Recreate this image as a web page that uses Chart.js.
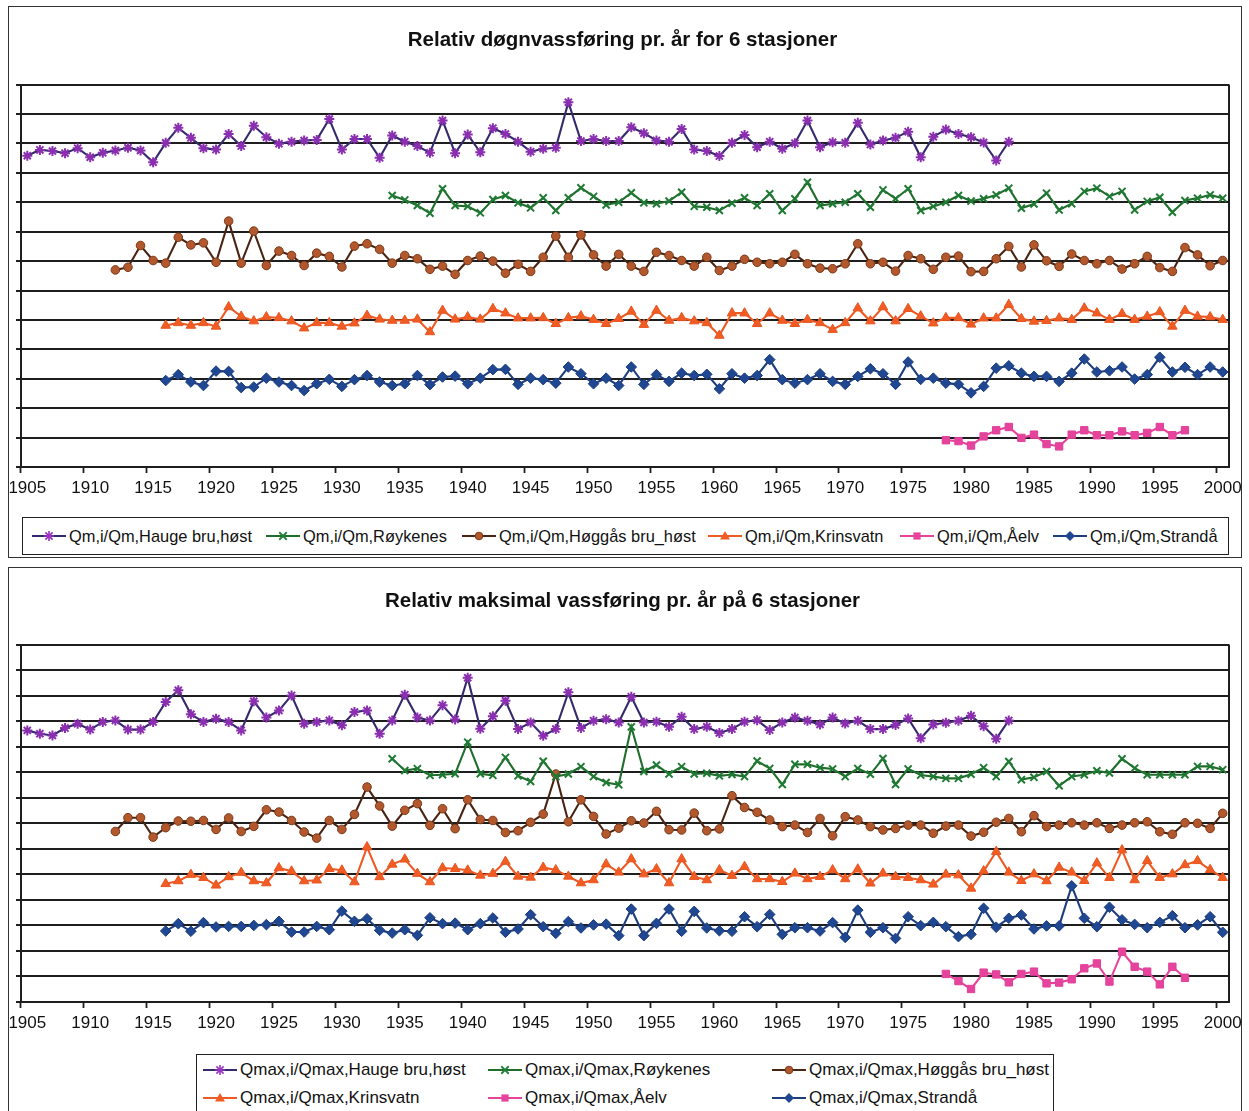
<!DOCTYPE html>
<html><head><meta charset="utf-8">
<script src="https://cdn.jsdelivr.net/npm/chart.js@4/dist/chart.umd.min.js"></script>
<style>
body{margin:0;background:#fff;width:1249px;height:1111px;position:relative;overflow:hidden;font-family:"Liberation Sans",Arial,sans-serif;}
.frame{position:absolute;border:1.5px solid #333;box-sizing:border-box;}
.wrap{position:absolute;left:0;width:1249px;}
.legend{position:absolute;border:1.5px solid #222;box-sizing:border-box;background:#fff}
.item{position:absolute;display:flex;align-items:center;white-space:nowrap;color:#111;}
.item svg{margin-right:3px}
</style></head>
<body>
<div class="frame" style="left:8px;top:6px;width:1234px;height:552px"></div>
<div class="frame" style="left:8px;top:567px;width:1234px;height:580px"></div>
<div class="wrap" style="top:0;height:507px"><canvas id="c1"></canvas></div>
<div class="wrap" style="top:560px;height:482px"><canvas id="c2"></canvas></div>
<div class="legend" id="leg1" style="left:22px;top:517px;width:1207px;height:38px"></div>
<div class="legend" id="leg2" style="left:196px;top:1054px;width:858px;height:70px"></div>
<script>
// ---------- categories ----------
const firstYear = 1905, lastYear = 2000;
const years = [];
for (let y = firstYear; y <= lastYear; y++) years.push(y);
const tickEvery = 5;

// ---------- titles / legend labels ----------
const titleDay = 'Relativ døgnvassføring pr. år for 6 stasjoner';
const titleMax = 'Relativ maksimal vassføring pr. år på 6 stasjoner';
const labelsDay = ['Qm,i/Qm,Hauge bru,høst','Qm,i/Qm,Røykenes','Qm,i/Qm,Høggås bru_høst','Qm,i/Qm,Krinsvatn','Qm,i/Qm,Åelv','Qm,i/Qm,Strandå'];
const labelsMax = ['Qmax,i/Qmax,Hauge bru,høst','Qmax,i/Qmax,Røykenes','Qmax,i/Qmax,Høggås bru_høst','Qmax,i/Qmax,Krinsvatn','Qmax,i/Qmax,Åelv','Qmax,i/Qmax,Strandå'];

// ---------- series start years ----------
const startHauge = 1905, startRoykenes = 1934, startHoggas = 1912, startKrinsvatn = 1916, startAelv = 1978, startStranda = 1916;

// ---------- top chart: daily (plotted, offset per station) ----------
const dayHauge = [10.58,10.78,10.74,10.67,10.84,10.53,10.68,10.76,10.85,10.76,10.36,11.02,11.53,11.19,10.84,10.79,11.32,10.91,11.6,11.21,10.99,11.06,11.10,11.12,11.83,10.79,11.15,11.15,10.51,11.27,11.06,10.91,10.68,11.78,10.67,11.30,10.70,11.52,11.32,11.06,10.72,10.82,10.85,12.40,11.08,11.15,11.08,11.08,11.55,11.35,11.10,11.06,11.49,10.79,10.74,10.57,11.02,11.29,10.87,11.06,10.82,11.01,11.78,10.87,11.04,11.02,11.70,10.96,11.10,11.19,11.40,10.53,11.23,11.47,11.32,11.21,11.03,10.42,11.06];
const dayRoykenes = [9.23,9.08,8.89,8.63,9.46,8.89,8.86,8.64,9.09,9.23,8.98,8.81,9.15,8.72,9.15,9.49,9.20,8.91,9.00,9.32,8.98,8.95,9.04,9.34,8.86,8.83,8.72,8.97,9.15,8.89,9.29,8.72,9.12,9.68,8.89,8.95,9.00,9.29,8.83,9.42,9.12,9.46,8.72,8.86,9.00,9.23,9.04,9.12,9.25,9.48,8.80,8.94,9.31,8.74,8.95,9.37,9.48,9.20,9.37,8.74,9.03,9.17,8.66,9.06,9.14,9.25,9.14];
const dayHoggas = [6.70,6.79,7.53,7.02,6.93,7.81,7.55,7.62,6.96,8.36,6.93,8.02,6.85,7.34,7.19,6.85,7.27,7.16,6.80,7.51,7.59,7.40,6.93,7.19,7.08,6.72,6.83,6.55,7.02,7.17,7.00,6.59,6.89,6.65,7.13,7.85,7.13,7.89,7.21,6.83,7.23,6.83,6.65,7.30,7.19,7.02,6.83,7.13,6.68,6.83,7.06,6.96,6.91,6.96,7.23,6.91,6.76,6.74,6.91,7.59,6.91,6.96,6.66,7.19,7.08,6.72,7.13,7.17,6.64,6.65,7.08,7.50,6.80,7.55,7.01,6.82,7.24,7.02,6.91,7.02,6.73,6.91,7.16,6.78,6.65,7.46,7.21,6.84,7.02];
const dayKrinsvatn = [4.81,4.90,4.81,4.90,4.78,5.44,5.12,4.96,5.10,5.07,4.96,4.72,4.90,4.90,4.78,4.89,5.15,5.02,4.98,4.98,5.02,4.59,5.32,5.02,5.10,5.02,5.38,5.23,5.06,5.06,5.07,4.87,5.07,5.13,5.01,4.87,5.04,5.29,4.84,5.32,4.98,5.07,4.96,4.90,4.47,5.23,5.23,4.87,5.23,4.98,4.87,5.01,4.90,4.67,4.90,5.40,4.96,5.44,4.96,5.38,5.13,4.89,5.07,5.07,4.85,5.06,5.06,5.52,5.04,4.95,4.97,5.06,5.01,5.40,5.23,5.01,5.21,5.01,5.12,5.27,4.78,5.32,5.12,5.10,5.01];
const dayAelv = [0.91,0.88,0.73,1.04,1.25,1.36,0.99,1.10,0.78,0.70,1.10,1.25,1.08,1.08,1.21,1.08,1.16,1.36,1.08,1.25];
const dayStranda = [2.94,3.14,2.89,2.77,3.26,3.25,2.70,2.72,3.02,2.89,2.77,2.60,2.83,2.98,2.74,2.97,3.11,2.89,2.77,2.83,3.11,2.80,3.06,3.09,2.83,3.02,3.31,3.32,2.81,3.02,2.97,2.85,3.40,3.17,2.83,3.02,2.77,3.40,2.81,3.14,2.91,3.19,3.11,3.15,2.66,3.17,3.02,3.11,3.65,2.97,2.85,2.97,3.17,2.91,2.81,3.08,3.34,3.17,2.81,3.57,2.98,3.02,2.85,2.81,2.52,2.74,3.36,3.44,3.19,3.08,3.08,2.91,3.19,3.67,3.23,3.27,3.40,2.99,3.14,3.73,3.23,3.39,3.14,3.40,3.23];

// ---------- bottom chart: maximum (plotted, offset per station) ----------
const maxHauge = [10.64,10.51,10.44,10.73,10.90,10.67,10.97,11.03,10.67,10.67,10.97,11.75,12.21,11.27,10.97,11.10,10.97,10.64,11.78,11.14,11.42,12.01,10.90,10.97,11.03,10.84,11.36,11.42,10.51,11.03,12.04,11.14,11.03,11.62,11.07,12.70,10.70,11.19,11.80,10.69,10.95,10.43,10.69,12.13,10.73,11.02,11.08,10.95,11.96,10.95,10.98,10.78,11.17,10.69,10.78,10.54,10.69,10.98,11.04,10.65,10.95,11.14,11.02,10.87,11.14,10.91,11.02,10.69,10.69,10.85,11.11,10.33,10.87,10.94,11.02,11.21,10.80,10.31,11.03];
const maxRoykenes = [9.53,9.07,9.14,8.88,8.90,8.94,10.18,8.94,8.88,9.58,8.86,8.64,9.43,8.83,8.93,9.22,8.83,8.60,8.51,10.78,9.03,9.28,8.93,9.22,8.93,8.96,8.86,8.91,8.83,9.44,9.15,8.52,9.31,9.31,9.18,9.13,8.83,9.15,8.92,9.54,8.52,9.13,8.89,8.83,8.76,8.76,8.92,9.18,8.83,9.42,8.71,8.80,9.03,8.47,8.83,8.90,9.06,8.97,9.53,9.16,8.90,8.90,8.90,8.90,9.23,9.23,9.10];
const maxHoggas = [6.68,7.22,7.22,6.46,6.83,7.09,7.08,7.11,6.76,7.21,6.68,6.88,7.53,7.44,7.11,6.66,6.42,7.11,6.76,7.35,8.42,7.68,6.89,7.51,7.77,6.92,7.57,6.79,7.92,7.15,7.11,6.64,6.71,7.04,7.36,8.93,7.06,7.92,7.27,6.58,6.81,7.10,7.01,7.47,6.75,6.74,7.40,6.71,6.78,8.08,7.62,7.43,7.13,6.87,6.93,6.64,7.19,6.51,7.26,7.13,6.87,6.74,6.80,6.93,6.93,6.61,6.89,6.93,6.50,6.65,7.04,7.19,6.67,7.30,6.87,6.93,7.02,6.93,7.02,6.80,6.93,7.02,7.06,6.67,6.57,7.02,7.00,6.80,7.39];
const maxKrinsvatn = [4.63,4.74,4.99,4.87,4.57,4.90,5.07,4.74,4.66,5.25,5.12,4.74,4.77,5.22,5.16,4.70,6.07,4.90,5.39,5.59,5.03,4.70,5.25,5.22,5.16,4.96,5.03,5.50,4.92,4.88,5.27,5.17,4.92,4.66,4.78,5.40,5.08,5.60,5.01,5.21,4.66,5.60,4.91,4.78,5.17,4.95,5.30,4.82,4.82,4.71,5.04,4.82,4.91,5.17,4.82,5.20,4.65,5.04,4.91,4.87,4.78,4.61,5.00,4.97,4.45,5.13,5.89,5.08,4.75,5.01,4.74,5.27,5.08,4.75,5.44,4.87,5.95,4.78,5.53,4.87,5.01,5.37,5.53,5.18,4.87];
const maxAelv = [1.10,0.82,0.51,1.15,1.08,0.77,1.10,1.19,0.73,0.76,0.89,1.32,1.51,0.80,1.97,1.38,1.19,0.69,1.38,0.95];
const maxStranda = [2.78,3.07,2.77,3.11,2.94,2.96,2.96,3.00,3.03,3.16,2.74,2.74,2.96,2.83,3.56,3.16,3.26,2.81,2.70,2.83,2.61,3.30,3.07,3.09,2.83,3.07,3.29,2.73,2.86,3.42,2.95,2.69,3.15,2.90,3.02,3.05,2.60,3.64,2.60,3.08,3.64,2.77,3.55,2.90,2.79,2.77,3.34,2.95,3.43,2.65,2.91,2.91,2.78,3.11,2.53,3.60,2.73,2.91,2.49,3.34,2.99,3.12,2.95,2.56,2.65,3.67,2.93,3.28,3.41,2.86,2.98,2.98,4.55,3.28,2.95,3.71,3.22,3.04,2.91,3.12,3.38,2.91,3.02,3.34,2.73];

// ---------- styles ----------
const FONT = '"Liberation Sans", Arial, sans-serif';
const styles = [
  {line:'#352a6c', point:'#9a34c2', border:'#8a2fb0', style:'star', r:5, pbw:2},
  {line:'#1f6e2c', point:'#22803a', border:'#1f7a34', style:'crossRot', r:5, pbw:2},
  {line:'#4a2412', point:'#b3582c', border:'#7a3818', style:'circle', r:4.3, pbw:1},
  {line:'#ee5a24', point:'#f05c24', border:'#e8561f', style:'triangle', r:5.5, pbw:1},
  {line:'#e6449c', point:'#e6449c', border:'#e0409a', style:'rect', r:5.2, pbw:1},
  {line:'#1d3d7c', point:'#1f4792', border:'#1a3c7c', style:'rectRot', r:5.3, pbw:1}
];

function pad(start, vals) {
  return years.map(y => (y >= start && y < start + vals.length) ? vals[y - start] : null);
}

const frameBorder = {
  id: 'frameBorder',
  beforeDatasetsDraw(chart) {
    const {ctx, chartArea: a} = chart;
    ctx.save();
    ctx.strokeStyle = '#1e1e1e';
    ctx.lineWidth = 2;
    ctx.beginPath();
    ctx.moveTo(a.right, a.top); ctx.lineTo(a.right, a.bottom);
    ctx.stroke();
    ctx.restore();
  }
};

function makeChart(id, ymax, labels, starts, series, title, titlePad) {
  return new Chart(document.getElementById(id), {
    type: 'line',
    data: {
      labels: years,
      datasets: series.map((vals, i) => ({
        label: labels[i],
        data: pad(starts[i], vals),
        borderColor: styles[i].line,
        backgroundColor: styles[i].point,
        pointStyle: styles[i].style,
        pointRadius: styles[i].r,
        pointBackgroundColor: styles[i].point,
        pointBorderColor: styles[i].border,
        pointBorderWidth: styles[i].pbw,
        borderWidth: 2.1,
        tension: 0,
        spanGaps: false
      }))
    },
    options: {
      responsive: true, maintainAspectRatio: false, animation: false,
      layout: {padding: {left: 16, right: 20, top: 0, bottom: 0}},
      plugins: {
        legend: {display: false}, tooltip: {enabled: false},
        title: {display: true, text: title, color: '#111', font: {family: FONT, size: 20.5, weight: 'bold'}, padding: titlePad}
      },
      scales: {
        x: {
          type: 'category', offset: true,
          grid: {offset: true, drawOnChartArea: false, drawTicks: true, tickLength: 6, tickWidth: 1.8,
            tickColor: (c) => { const y = years[c.index]; return (y !== undefined && y % tickEvery === 0) ? '#1e1e1e' : 'rgba(0,0,0,0)'; }},
          border: {display: true, color: '#1e1e1e', width: 2},
          ticks: {autoSkip: false, maxRotation: 0, minRotation: 0, padding: 5, color: '#111', font: {family: FONT, size: 17},
            callback: function(v, i) { const y = years[i]; return y % tickEvery === 0 ? String(y) : ''; }},
          afterFit: (s) => { s.height = 40; }
        },
        y: {
          min: 0, max: ymax,
          ticks: {stepSize: 1, display: false},
          grid: {color: '#1e1e1e', lineWidth: 2, drawTicks: true, tickLength: 5, tickColor: '#1e1e1e'},
          border: {display: true, color: '#1e1e1e', width: 2},
          afterFit: (s) => { s.width = 5; }
        }
      }
    },
    plugins: [frameBorder]
  });
}

const starts = [startHauge, startRoykenes, startHoggas, startKrinsvatn, startAelv, startStranda];
makeChart('c1', 13, labelsDay, starts, [dayHauge, dayRoykenes, dayHoggas, dayKrinsvatn, dayAelv, dayStranda], titleDay, {top: 28, bottom: 32});
makeChart('c2', 14, labelsMax, starts, [maxHauge, maxRoykenes, maxHoggas, maxKrinsvatn, maxAelv, maxStranda], titleMax, {top: 29, bottom: 31});

// ---------- HTML legends ----------
function markerSVG(st, w) {
  const cx = w / 2, cy = 8, r = Math.min(st.r, 5), c = st.point;
  let m = '';
  if (st.style === 'star') {
    const d = r * 0.72;
    m = `<path d="M${cx-r} ${cy}H${cx+r}M${cx} ${cy-r}V${cy+r}M${cx-d} ${cy-d}L${cx+d} ${cy+d}M${cx-d} ${cy+d}L${cx+d} ${cy-d}" stroke="${c}" stroke-width="1.6"/>`;
  } else if (st.style === 'crossRot') {
    const d = r * 0.75;
    m = `<path d="M${cx-d} ${cy-d}L${cx+d} ${cy+d}M${cx-d} ${cy+d}L${cx+d} ${cy-d}" stroke="${c}" stroke-width="1.8"/>`;
  } else if (st.style === 'circle') {
    m = `<circle cx="${cx}" cy="${cy}" r="${r-0.5}" fill="${c}" stroke="${st.border}"/>`;
  } else if (st.style === 'triangle') {
    m = `<polygon points="${cx},${cy-r} ${cx+r},${cy+r*0.7} ${cx-r},${cy+r*0.7}" fill="${c}"/>`;
  } else if (st.style === 'rect') {
    const s = r * 0.72;
    m = `<rect x="${cx-s}" y="${cy-s}" width="${2*s}" height="${2*s}" fill="${c}"/>`;
  } else {
    m = `<polygon points="${cx},${cy-r} ${cx+r},${cy} ${cx},${cy+r} ${cx-r},${cy}" fill="${c}"/>`;
  }
  return `<svg width="${w}" height="16"><line x1="0" y1="${cy}" x2="${w}" y2="${cy}" stroke="${st.line}" stroke-width="2"/>${m}</svg>`;
}
function buildLegend(id, labels, pos, size) {
  const el = document.getElementById(id);
  const box = el.getBoundingClientRect();
  labels.forEach((t, i) => {
    const d = document.createElement('div');
    d.className = 'item';
    d.style.left = (pos[i][0] - box.left) + 'px';
    d.style.top = (pos[i][1] - box.top - 9) + 'px';
    d.style.fontSize = size + 'px';
    d.style.height = '18px';
    d.innerHTML = markerSVG(styles[i], 34) + '<span>' + t + '</span>';
    el.appendChild(d);
  });
}
buildLegend('leg1', labelsDay, [[31,535],[265,535],[461,535],[707,535],[899,535],[1052,535]], 16.4);
buildLegend('leg2', labelsMax, [[202,1069],[487,1069],[771,1069],[202,1097],[487,1097],[771,1097]], 17);
</script>
</body></html>
